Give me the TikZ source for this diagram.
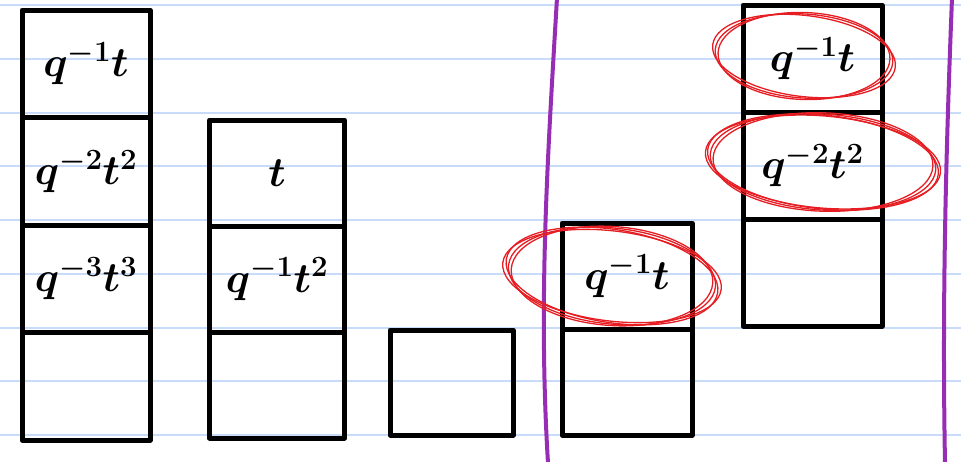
\documentclass[tikz,border=0pt]{standalone}
\usepackage{fix-cm}
\usetikzlibrary{positioning}
\definecolor{ruleblue}{RGB}{200,220,250}
\definecolor{marginpurple}{RGB}{150,45,180}
\definecolor{circred}{RGB}{230,30,35}
\tikzset{
  cell/.style={draw=black, line width=5pt, line join=round, fill=none, inner sep=0pt,
    font=\fontsize{42}{48}\selectfont\boldmath, text=black},
  ruled/.style={ruleblue, line width=2pt},
  margin/.style={marginpurple, line width=4pt, line cap=round},
  loop/.style={circred, line width=1.3pt},
}
\begin{document}
\begin{tikzpicture}[x=1pt,y=-1pt]
\fill[white] (0,0) rectangle (961,461);
\useasboundingbox (0,0) rectangle (961,461);
% ruled paper
\foreach \k in {0,...,8} {
  \draw[ruled] (0,{5+53.75*\k}) -- (961,{5+53.75*\k});
}
% column 1
\node[cell, minimum width=128pt, minimum height=107.5pt] (a1) at (86,63.75) {$q^{-1}t$};
\node[cell, minimum width=128pt, minimum height=107.5pt] (a2) at (86,171.25) {$q^{-2}t^{2}$};
\node[cell, minimum width=128pt, minimum height=107.5pt] (a3) at (86,278.75) {$q^{-3}t^{3}$};
\node[cell, minimum width=128pt, minimum height=107.5pt] (a4) at (86,386.25) {};
% column 2
\node[cell, minimum width=135pt, minimum height=106pt] (b1) at (277,173) {$t$};
\node[cell, minimum width=135pt, minimum height=106pt] (b2) at (277,279) {$q^{-1}t^{2}$};
\node[cell, minimum width=135pt, minimum height=106pt] (b3) at (277,385) {};
% column 3
\node[cell, minimum width=123pt, minimum height=105pt] (c1) at (451.5,382.5) {};
% column 4
\node[cell, minimum width=130pt, minimum height=106pt] (d1) at (627,276) {$q^{-1}t$};
\node[cell, minimum width=130pt, minimum height=106pt] (d2) at (627,382) {};
% column 5
\node[cell, minimum width=139pt, minimum height=107pt] (e1) at (812.5,58.5) {$q^{-1}t$};
\node[cell, minimum width=139pt, minimum height=107pt] (e2) at (812.5,165.5) {$q^{-2}t^{2}$};
\node[cell, minimum width=139pt, minimum height=107pt] (e3) at (812.5,272.5) {};
% purple margin lines
\draw[margin] (557,-2) .. controls (548,150) and (538,300) .. (548,463);
\draw[margin] (952,-2) .. controls (946,150) and (942,300) .. (945,463);
% red loops
\foreach \r/\a in {0/-6, 3/-9, -3/-4, 6/-7} {
  \draw[loop] (612,276) ellipse[x radius={104+\r}, y radius={48-0.5*\r}, rotate=\a];
}
\foreach \r/\a in {0/-4, 3/-7, -3/-2} {
  \draw[loop] (804,56) ellipse[x radius={89+\r}, y radius={42-0.5*\r}, rotate=\a];
}
\foreach \r/\a in {0/-4, 3/-6, -3/-2, 5/-5} {
  \draw[loop] (823,162) ellipse[x radius={113+\r}, y radius={48-0.4*\r}, rotate=\a];
}
\end{tikzpicture}
\end{document}
